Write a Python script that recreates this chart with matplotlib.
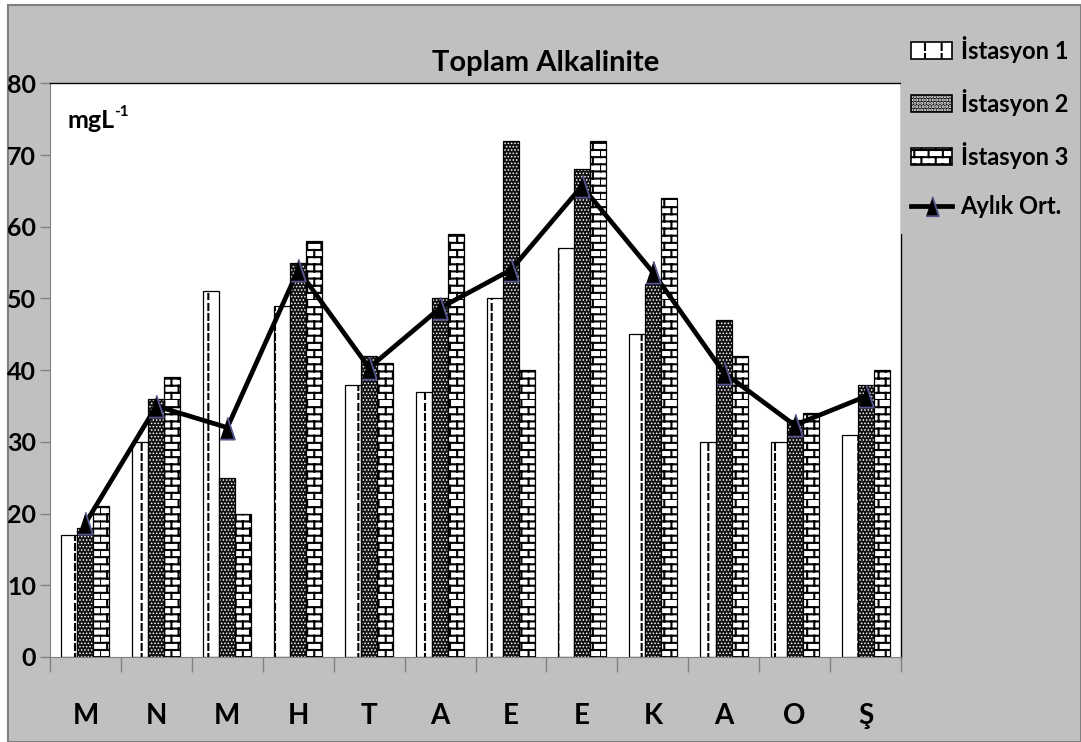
import warnings

import numpy as np
import matplotlib
matplotlib.use('Agg')
import matplotlib.pyplot as plt
import matplotlib.hatch as mhatch
from matplotlib import font_manager
from matplotlib.path import Path
from matplotlib.patches import Rectangle, Patch
from matplotlib.lines import Line2D
from matplotlib.legend_handler import HandlerTuple

# custom hatch letters are fine for Agg, just not in the official list
warnings.filterwarnings('ignore', category=matplotlib.MatplotlibDeprecationWarning)

months = ['M', 'N', 'M', 'H', 'T', 'A', 'E', 'E', 'K', 'A', 'O', 'Ş']
istasyon1 = [17, 30, 51, 49, 38, 37, 50, 57, 45, 30, 30, 31]
istasyon2 = [18, 36, 25, 55, 42, 50, 72, 68, 52, 47, 33, 38]
istasyon3 = [21, 39, 20, 58, 41, 59, 40, 72, 64, 42, 34, 40]
labels = ['İstasyon 1', 'İstasyon 2', 'İstasyon 3', 'Aylık Ort.']
y_ticks = list(range(0, 81, 10))

aylik_ort = np.mean([istasyon1, istasyon2, istasyon3], axis=0)


class BrickHatch(mhatch.HatchPatternBase):
    """'B' -> brick wall: horizontal courses with staggered joints."""
    rows = 14
    cols = 7

    def __init__(self, hatch, density):
        on = 'B' in hatch
        self.num_vertices = (self.rows * 2 + self.rows * self.cols * 2) if on else 0

    def set_vertices_and_codes(self, vertices, codes):
        h = 1.0 / self.rows
        w = 1.0 / self.cols
        k = 0
        for r in range(self.rows):
            y = r * h
            vertices[k] = (0.0, y)
            vertices[k + 1] = (1.0, y)
            k += 2
            shift = w / 2 if r % 2 else 0.0
            for c in range(self.cols):
                xx = c * w + shift
                vertices[k] = (xx, y)
                vertices[k + 1] = (xx, y + h)
                k += 2
        codes[0::2] = Path.MOVETO
        codes[1::2] = Path.LINETO


class DashHatch(mhatch.HatchPatternBase):
    """'D' -> dashed vertical lines."""
    cols = 6
    dashes = 10
    frac = 0.6

    def __init__(self, hatch, density):
        on = 'D' in hatch
        self.num_vertices = self.cols * self.dashes * 2 if on else 0

    def set_vertices_and_codes(self, vertices, codes):
        step = 1.0 / self.dashes
        k = 0
        for c in range(self.cols):
            xx = (c + 0.5) / self.cols
            for d in range(self.dashes):
                vertices[k] = (xx, d * step)
                vertices[k + 1] = (xx, d * step + step * self.frac)
                k += 2
        codes[0::2] = Path.MOVETO
        codes[1::2] = Path.LINETO


mhatch._hatch_types.extend([BrickHatch, DashHatch])

installed = {f.name for f in font_manager.fontManager.ttflist}
font = 'DejaVu Sans'
for fam in ['Lato', 'Roboto', 'Liberation Sans']:
    if fam in installed:
        font = fam
        break
plt.rcParams['font.family'] = [font, 'DejaVu Sans']
plt.rcParams['font.weight'] = 'bold'
plt.rcParams['hatch.linewidth'] = 1.5

W, H = 1081, 742
fig = plt.figure(figsize=(W / 100, H / 100), dpi=100)
fig.add_artist(Rectangle((8 / W, 0), 1 - 8 / W, 1 - 5 / H, transform=fig.transFigure,
                         facecolor='#c0c0c0', edgecolor='#808080', lw=1.5, zorder=-5))

ax = fig.add_axes([50 / W, 85 / H, 851 / W, 573.6 / H])
ax.set_facecolor('white')

x = np.arange(len(months))
bw = 0.226
ax.bar(x - bw, istasyon1, bw, color='white', edgecolor='black', hatch='D', lw=0.9)
with plt.rc_context({'hatch.linewidth': 0.7}):
    ax.bar(x, istasyon2, bw, color='#111111', edgecolor='white', hatch='.....', lw=0)
    dots = Patch(facecolor='#111111', edgecolor='white', hatch='.....', lw=0)
ax.bar(x, istasyon2, bw, fill=False, edgecolor='black', lw=0.9)
ax.bar(x + bw, istasyon3, bw, color='white', edgecolor='black', hatch='B', lw=0.9)

tri = [(-0.33, -0.5), (0.33, -0.5), (0.0, 0.5)]
ax.plot(x, aylik_ort, color='black', lw=3.4, marker=tri, ms=16,
        mfc='black', mec='#55558f', mew=1.3, zorder=5)

ax.set_xlim(-0.5, len(months) - 0.5)
ax.set_ylim(0, 80)
ax.set_yticks(y_ticks)
ax.tick_params(axis='y', direction='out', length=7, width=1, color='#808080',
               pad=3, labelsize=18)
ax.set_xticks(np.arange(-0.5, len(months), 1))
ax.set_xticklabels([])
ax.tick_params(axis='x', which='major', length=11, width=1, color='#808080')
ax.set_xticks(x, months, minor=True)
ax.tick_params(axis='x', which='minor', length=0, pad=33, labelsize=20)

for side in ['left', 'bottom']:
    ax.spines[side].set_color('#808080')
for side in ['top', 'right']:
    ax.spines[side].set_color('black')
    ax.spines[side].set_linewidth(1)

unit = ax.text(0.02, 0.9215, 'mgL', transform=ax.transAxes, fontsize=18, va='baseline')
ax.annotate('-1', xy=(1, 1), xycoords=unit, fontsize=11, ha='left', va='top',
            xytext=(0, 3), textcoords='offset points')

fig.text(546 / W, 1 - 71 / H, 'Toplam Alkalinite', ha='center', va='baseline', fontsize=21)

# gray panel for the legend, over the top of the right spine
fig.add_artist(Rectangle((901 / W, 1 - 234 / H), (W - 901) / W - 0.002, 154 / H,
                         transform=fig.transFigure, facecolor='#c0c0c0',
                         edgecolor='none', zorder=2))

handles = [
    Patch(facecolor='white', edgecolor='black', hatch='D', lw=1.2),
    (dots, Patch(fill=False, edgecolor='black', lw=1.2)),
    Patch(facecolor='white', edgecolor='black', hatch='B', lw=1.2),
    Line2D([], [], color='black', lw=3.4, marker=tri, ms=14,
           mfc='black', mec='#55558f', mew=1.3),
]
fig.legend(handles, labels, loc='upper left', bbox_to_anchor=(911 / W, 1 - 36 / H),
           frameon=False, fontsize=17, handlelength=1.75, handleheight=0.7,
           handletextpad=0.35, labelspacing=1.1, borderaxespad=0, borderpad=0,
           handler_map={tuple: HandlerTuple(ndivide=1, pad=0)})

fig.savefig('out.png', dpi=100)
